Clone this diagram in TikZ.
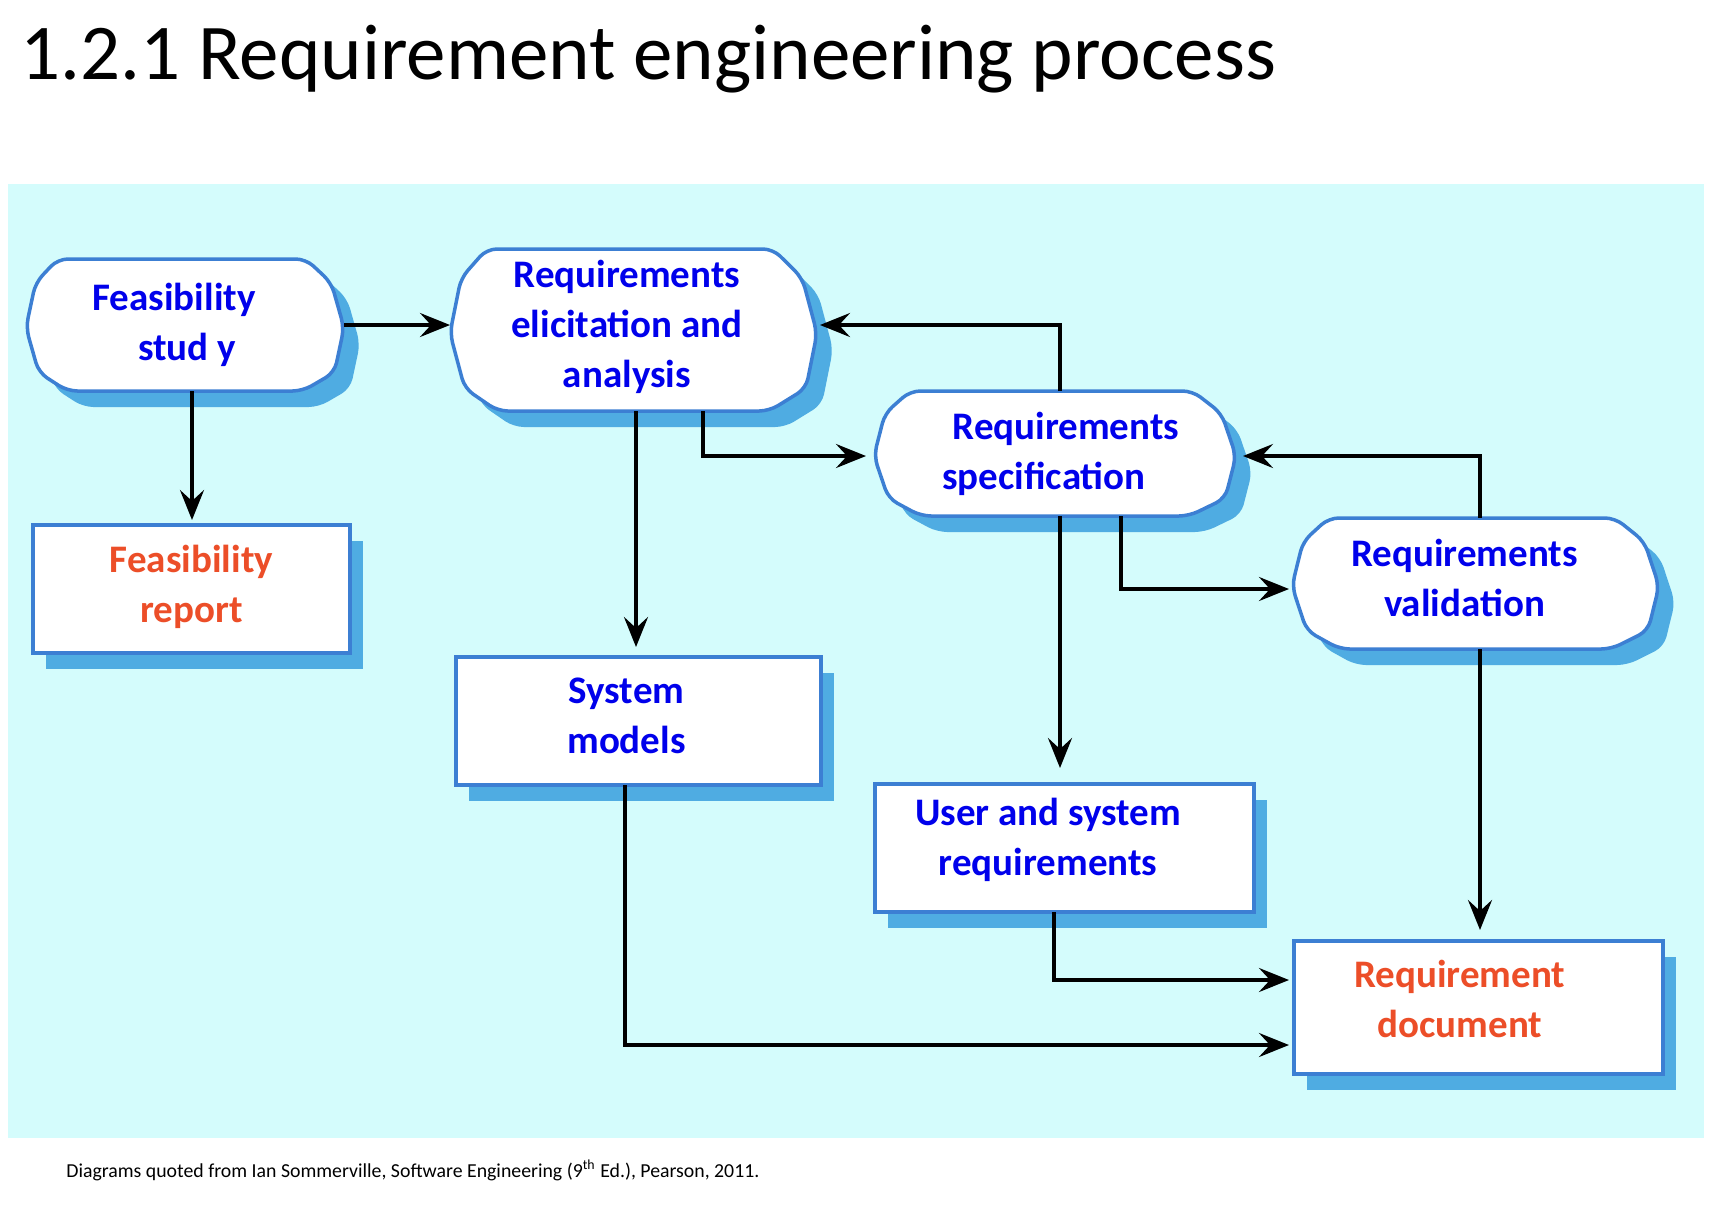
\documentclass[tikz,border=0pt]{standalone}
\usepackage{fontspec}
\setmainfont{Carlito}
\usetikzlibrary{arrows.meta,calc}
\definecolor{bgcyan}{RGB}{212,252,252}
\definecolor{edgeblue}{RGB}{60,127,211}
\definecolor{shadowblue}{RGB}{79,172,226}
\definecolor{txtblue}{RGB}{0,0,235}
\definecolor{txtred}{RGB}{236,78,40}
\newcommand\octshape[5]{%
\path[#1] ({#2+0.10*(#4-#2)},#3) -- ({#2+0.88*(#4-#2)},#3) -- ({#2+0.96*(#4-#2)},{#3+0.18*(#5-#3)}) -- (#4,{#3+0.52*(#5-#3)}) -- ({#2+0.97*(#4-#2)},{#3+0.86*(#5-#3)}) -- ({#2+0.87*(#4-#2)},#5) -- ({#2+0.13*(#4-#2)},#5) -- ({#2+0.04*(#4-#2)},{#3+0.86*(#5-#3)}) -- (#2,{#3+0.52*(#5-#3)}) -- ({#2+0.03*(#4-#2)},{#3+0.18*(#5-#3)}) -- cycle;}
\newcommand\octbox[4]{%
\octshape{fill=shadowblue, shift={(16,16)}, rounded corners=5pt}{#1}{#2}{#3}{#4}
\octshape{fill=white, draw=edgeblue, line width=1.75pt, rounded corners=5pt}{#1}{#2}{#3}{#4}}
\newcommand\rectbox[4]{%
\fill[shadowblue] ({#1+13},{#2+16}) rectangle ({#3+13},{#4+16});
\draw[fill=white, draw=edgeblue, line width=1.75pt] (#1,#2) rectangle (#3,#4);}
\newcommand\pad{\rule{6.6pt}{0pt}}
\newcommand\padb{\rule{11pt}{0pt}}
\tikzset{
  txt/.style={inner sep=0pt, outer sep=0pt, align=center, text=txtblue,
    font=\bfseries\fontsize{19.5pt}{25pt}\selectfont},
  outtxt/.style={txt, text=txtred},
  proc/.style={inner sep=0pt, outer sep=0pt},
  arr/.style={line width=1.8pt, -{Stealth[length=15pt,width=12pt,inset=5.5pt]}}
}
\begin{document}
\begin{tikzpicture}[x=0.5pt, y=-0.5pt]
\useasboundingbox (0,0) rectangle (1720,1206);
\fill[white] (0,0) rectangle (1720,1206);
\fill[bgcyan] (8,184) rectangle (1704,1138);
\node[anchor=base west, inner sep=0pt, font=\fontsize{39.5pt}{47pt}\selectfont] (title) at (20,79) {1.2.1 Requirement engineering process};
\node[anchor=base west, inner sep=0pt, font=\fontsize{9.9pt}{12pt}\selectfont] (note) at (66,1177) {Diagrams quoted from Ian Sommerville, Software Engineering (9\textsuperscript{th} Ed.), Pearson, 2011.};
% shapes
\octbox{26}{259}{344}{391}
\rectbox{33}{525}{350}{653}
\octbox{450}{249}{817}{411}
\octbox{874}{391}{1236}{516}
\octbox{1292}{518}{1659}{649}
\rectbox{456}{657}{821}{785}
\rectbox{875}{784}{1254}{912}
\rectbox{1294}{941}{1663}{1074}
% nodes
\node[proc, minimum width=159pt, minimum height=66pt,
  label={[txt, xshift=-2.2pt]center:{Feasibility\pad\\\pad stud y}}] (fs) at (185,325) {};
\node[proc, minimum width=158.5pt, minimum height=64pt,
  label={[outtxt, yshift=1pt]center:{Feasibility\\report}}] (fr) at (191.5,589) {};
\node[proc, minimum width=183.5pt, minimum height=81pt,
  label={[txt, xshift=-3.3pt, yshift=1.6pt]center:{Requirements\\elicitation and\\analysis}}] (ela) at (633.5,330) {};
\node[proc, minimum width=181pt, minimum height=62.5pt,
  label={[txt]center:{\padb Requirements\\specification\padb}}] (spec) at (1055,453.5) {};
\node[proc, minimum width=183.5pt, minimum height=65.5pt,
  label={[txt, xshift=-5.5pt, yshift=2.75pt]center:{Requirements\\validation}}] (val) at (1475.5,583.5) {};
\node[proc, minimum width=182.5pt, minimum height=64pt,
  label={[txt, xshift=-6pt, yshift=2.75pt]center:{System\\models}}] (sm) at (638.5,721) {};
\node[proc, minimum width=189.5pt, minimum height=64pt,
  label={[txt, xshift=-8.2pt, yshift=3.85pt]center:{User and system\\requirements}}] (usr) at (1064.5,848) {};
\node[proc, minimum width=184.5pt, minimum height=66.5pt,
  label={[outtxt, xshift=-9.3pt, yshift=4.4pt]center:{Requirement\\document}}] (doc) at (1478.5,1007.5) {};
% connectors
\draw[arr] (fs.east) -- (fs.east -| ela.west);
\draw[arr] ([xshift=3.5pt]fs.south) -- ([xshift=0.25pt,yshift=2.5pt]fr.north);
\draw[arr] ([xshift=1.25pt]ela.south) -- ([xshift=-1.25pt,yshift=5pt]sm.north);
\draw[arr] ([xshift=34.75pt]ela.south) |- ([xshift=-4pt,yshift=-1.25pt]spec.west);
\draw[arr] ([xshift=2.5pt]spec.north) |- ([xshift=1.5pt,yshift=2.5pt]ela.east);
\draw[arr] ([xshift=2.5pt]spec.south) -- ([xshift=-2.25pt,yshift=8pt]usr.north);
\draw[arr] ([xshift=33pt]spec.south) |- ([xshift=-1.5pt,yshift=-2.75pt]val.west);
\draw[arr] ([xshift=2.25pt]val.north) |- ([xshift=3.5pt,yshift=-1.25pt]spec.east);
\draw[arr] ([xshift=2.25pt]val.south) -- ([xshift=0.75pt,yshift=5.5pt]doc.north);
\draw[arr] ([xshift=-5.25pt]usr.south) |- ([xshift=-2.5pt,yshift=13.75pt]doc.west);
\draw[arr] ([xshift=-6.75pt]sm.south) |- ([xshift=-2.5pt,yshift=-18.75pt]doc.west);
\end{tikzpicture}
\end{document}
